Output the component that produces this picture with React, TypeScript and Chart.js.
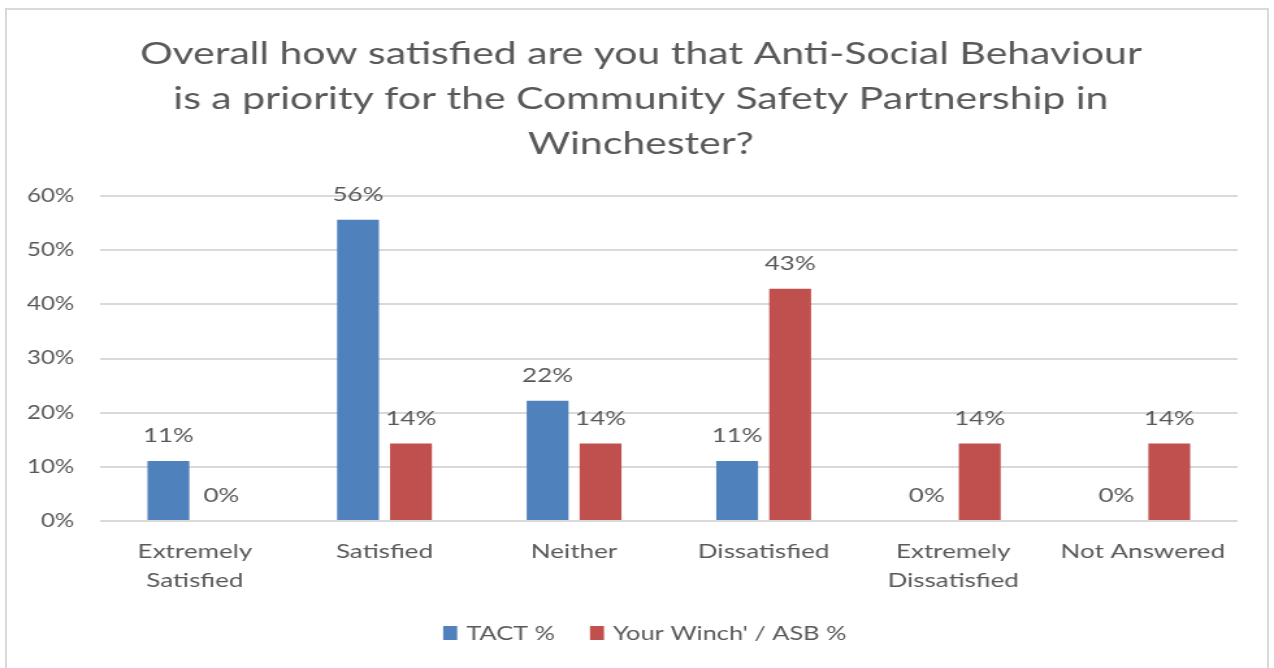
import React, { useEffect, useRef } from "react";
import { Chart, registerables } from "chart.js";

Chart.register(...registerables);

const titleLines = [
  "Overall how satisfied are you that Anti-Social Behaviour",
  "is a priority for the Community Safety Partnership in",
  "Winchester?",
];
const categories = [
  ["Extremely", "Satisfied"],
  "Satisfied",
  "Neither",
  "Dissatisfied",
  ["Extremely", "Dissatisfied"],
  "Not Answered",
];
const tactLabel = "TACT %";
const tactValues = [11.1, 55.6, 22.2, 11.1, 0, 0];
const asbLabel = "Your Winch' / ASB %";
const asbValues = [0, 14.3, 14.3, 42.9, 14.3, 14.3];

const STRETCH = 1.3;
const W = 980;
const H = 668;
const FONT = "Lato, 'Open Sans', sans-serif";
const TEXT = "#595959";

const labelsPlugin = {
  id: "customText",
  afterDatasetsDraw(chart: any) {
    const ctx = chart.ctx;
    ctx.save();
    ctx.fillStyle = TEXT;
    ctx.font = `20px ${FONT}`;
    ctx.textAlign = "center";
    ctx.textBaseline = "middle";
    chart.data.datasets.forEach((ds: any, di: number) => {
      const meta = chart.getDatasetMeta(di);
      meta.data.forEach((el: any, i: number) => {
        const v = ds.data[i];
        ctx.fillText(Math.round(v) + "%", el.x, el.y - 25);
      });
    });
    ctx.restore();
  },
  afterDraw(chart: any) {
    const ctx = chart.ctx;
    ctx.save();
    // title
    ctx.fillStyle = TEXT;
    ctx.font = `31.5px ${FONT}`;
    ctx.textAlign = "center";
    ctx.textBaseline = "alphabetic";
    const baselines = [64, 109, 154];
    titleLines.forEach((t, i) => ctx.fillText(t, 493, baselines[i]));
    // legend
    ctx.font = `19.5px ${FONT}`;
    ctx.textBaseline = "middle";
    ctx.textAlign = "left";
    const box = 14 / STRETCH;
    const gapBox = 7;
    const gapItem = 27;
    const items = chart.data.datasets.map((d: any) => ({
      label: d.label,
      color: d.backgroundColor,
      w: box + gapBox + ctx.measureText(d.label).width,
    }));
    const total = items.reduce((s: number, it: any) => s + it.w, 0) + gapItem * (items.length - 1);
    let x = 496 - total / 2;
    const y = 633;
    items.forEach((it: any) => {
      ctx.fillStyle = it.color;
      ctx.fillRect(x, y - 7, box, 14);
      ctx.fillStyle = TEXT;
      ctx.fillText(it.label, x + box + gapBox, y + 1);
      x += it.w + gapItem;
    });
    ctx.restore();
  },
};

export default function App() {
  const ref = useRef<HTMLCanvasElement>(null);
  useEffect(() => {
    if (!ref.current) return;
    const chart = new Chart(ref.current, {
      type: "bar",
      data: {
        labels: categories as any,
        datasets: [
          {
            label: tactLabel,
            data: tactValues,
            backgroundColor: "#4F81BD",
            barPercentage: 0.79,
            categoryPercentage: 0.559,
          },
          {
            label: asbLabel,
            data: asbValues,
            backgroundColor: "#C0504D",
            barPercentage: 0.79,
            categoryPercentage: 0.559,
          },
        ],
      },
      options: {
        responsive: false,
        animation: false,
        devicePixelRatio: 1,
        layout: { padding: { top: 196, right: 28, left: 0, bottom: 0 } },
        plugins: {
          legend: { display: false },
          title: { display: false },
          tooltip: { enabled: false },
        },
        scales: {
          x: {
            grid: { display: false, drawTicks: false },
            border: { display: false },
            ticks: {
              color: TEXT,
              font: { family: FONT, size: 20, lineHeight: 1.45 },
              padding: 16.5,
              maxRotation: 0,
              autoSkip: false,
            },
            afterFit(scale: any) {
              scale.height = 147;
            },
          },
          y: {
            min: 0,
            max: 60,
            border: { display: false },
            grid: { color: "#D9D9D9", lineWidth: 2, drawTicks: false },
            ticks: {
              stepSize: 10,
              color: TEXT,
              font: { family: FONT, size: 18.5 },
              padding: 20,
              callback: (v: any) => v + "%",
            },
            afterFit(scale: any) {
              scale.width = 77;
            },
          },
        },
      },
      plugins: [labelsPlugin],
    });
    return () => chart.destroy();
  }, []);
  return (
    <div style={{ position: "absolute", left: 0, top: 0, width: 1274, height: 668, background: "#fff", overflow: "hidden" }}>
      <div
        style={{
          position: "absolute",
          left: 5,
          top: 8,
          width: 1264,
          height: 700,
          border: "2px solid #D9D9D9",
          boxSizing: "border-box",
        }}
      />
      <canvas
        ref={ref}
        width={W}
        height={H}
        style={{ position: "absolute", left: 0, top: 0, width: W * STRETCH, height: H, display: "block" }}
      />
    </div>
  );
}
